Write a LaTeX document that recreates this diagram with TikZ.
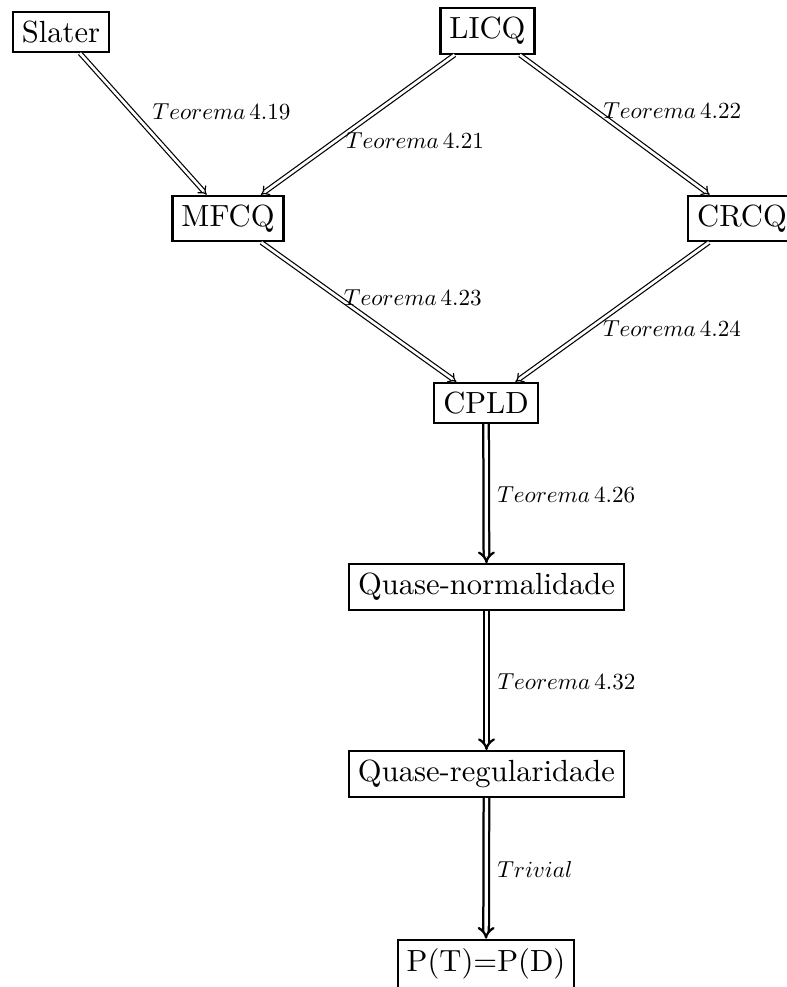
\documentclass[tikz,border=0pt]{standalone}
\usepackage{graphicx}
\usetikzlibrary{arrows.meta}
\newcommand{\lbltext}[1]{\scalebox{0.77}{$#1$}}
\begin{document}
\begin{tikzpicture}[x=0.33333pt,y=-0.33333pt,
  box/.style={draw, line width=0.7pt, inner sep=3pt, font=\fontsize{10.2}{12}\selectfont},
  imp/.style={double, line width=0.4pt, double distance=0.9pt, -{Implies[scale=1.25]}},
  impv/.style={double, line width=0.75pt, double distance=1.1pt, -{Implies}},
  lbl/.style={inner sep=0pt, anchor=west}]
\useasboundingbox (0,0) rectangle (787,987);
\node[box] (sl) at (61,32) {Slater};
\node[box] (li) at (487.5,31) {LICQ};
\node[box] (mf) at (228,218.5) {MFCQ};
\node[box] (cr) at (742,218.5) {CRCQ};
\node[box] (cp) at (486,403) {CPLD};
\node[box] (qn) at (486.5,587) {Quase-normalidade};
\node[box] (qr) at (486.5,774) {Quase-regularidade};
\node[box] (pp) at (486,964) {P(T)=P(D)};
\draw[imp] (sl) -- node[lbl, pos=0.41, xshift=6.7pt] {\lbltext{Teorema\,4.19}} (mf);
\draw[imp] (li) -- node[lbl, pos=0.615, xshift=3.3pt] {\lbltext{Teorema\,4.21}} (mf);
\draw[imp] (li) -- node[lbl, pos=0.4, xshift=2.3pt] {\lbltext{Teorema\,4.22}} (cr);
\draw[imp] (mf) -- node[lbl, pos=0.394, xshift=1.7pt] {\lbltext{Teorema\,4.23}} (cp);
\draw[imp] (cr) -- node[lbl, pos=0.62, xshift=4.5pt] {\lbltext{Teorema\,4.24}} (cp);
\draw[impv] (cp) -- node[lbl, pos=0.51, xshift=3.3pt] {\lbltext{Teorema\,4.26}} (qn);
\draw[impv] (qn) -- node[lbl, pos=0.51, xshift=3.3pt] {\lbltext{Teorema\,4.32}} (qr);
\draw[impv] (qr) -- node[lbl, pos=0.51, xshift=3.3pt] {\lbltext{Trivial}} (pp);
\end{tikzpicture}
\end{document}
